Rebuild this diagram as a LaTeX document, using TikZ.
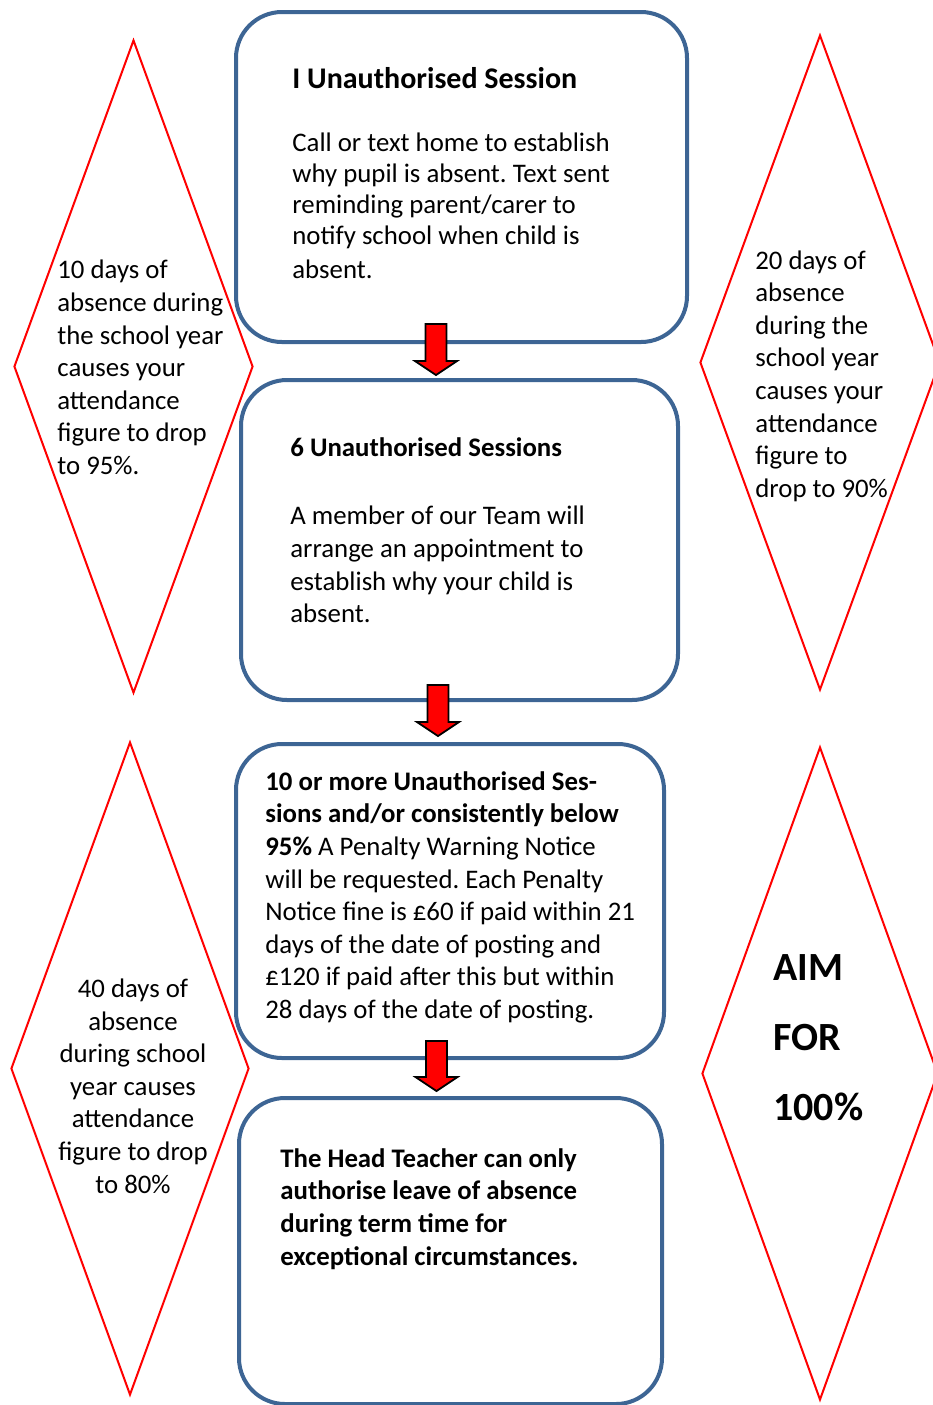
\documentclass[tikz,border=0pt]{standalone}
\usepackage{fontspec}
\setmainfont{Carlito}
\usepackage{tikz}
\usetikzlibrary{shapes.geometric,positioning,calc}
\frenchspacing
\definecolor{BoxBlue}{HTML}{3D6594}
\definecolor{KiteRed}{HTML}{FF0000}
\definecolor{ArrowRed}{HTML}{FF0000}
\tikzset{
  SB/.style={rectangle,rounded corners=23pt,draw=BoxBlue,line width=2pt,fill=white},
  KT/.style={diamond,draw=KiteRed,line width=1pt,inner sep=0pt},
  tx/.style={inner sep=0pt,align=left,font=\fontsize{13.4}{16.3}\selectfont},
  tc/.style={tx,align=center},
  big/.style={inner sep=0pt,align=left,font=\fontsize{20}{35}\selectfont\bfseries},
  blockarr/.style={draw=black,fill=ArrowRed,line width=0.9pt,line join=miter,
    to path={($(\tikztostart)+(-10.5,0)$) -- ($(\tikztotarget)+(-10.5,-14)$)
      -- ($(\tikztotarget)+(-21,-14)$) -- (\tikztotarget)
      -- ($(\tikztotarget)+(21,-14)$) -- ($(\tikztotarget)+(10.5,-14)$)
      -- ($(\tikztostart)+(10.5,0)$) -- cycle}}
}

\begin{document}
\begin{tikzpicture}[x=0.5pt,y=-0.5pt]
  \useasboundingbox (0,0) rectangle (933,1405);

  % kites on the left and right
  \node[KT,minimum width=119.5pt,minimum height=326.5pt] (k1) at (133.5,366.5) {};
  \node[KT,minimum width=120pt,minimum height=327.5pt] (k2) at (820,362.5) {};
  \node[KT,minimum width=119pt,minimum height=326.5pt] (k3) at (130,1068.5) {};
  \node[KT,minimum width=118pt,minimum height=326.5pt] (k4) at (820,1073.5) {};

  \node[tx,anchor=west] (k1t) at (57,367.5) {10 days of\\absence during\\the school year\\causes your\\attendance\\figure to drop\\to 95\%.};
  \node[tx,anchor=west] (k2t) at (755,376) {20 days of\\absence\\during the\\school year\\causes your\\attendance\\figure to\\drop to 90\%};
  \node[tc] (k3t) at (133,1086) {40 days of\\absence\\during school\\year causes\\attendance\\figure to drop\\to 80\%};
  \node[big,anchor=west] (k4t) at (773,1038) {AIM\\FOR\\100\%};

  % the four steps
  \node[SB,minimum width=225.5pt,minimum height=165pt] (b1) at (461.5,177) {};
  \node[SB,minimum width=218.5pt,minimum height=160pt] (b2) at (459.5,540) {};
  \node[SB,minimum width=214pt,minimum height=157pt] (b3) at (450,901) {};
  \node[SB,minimum width=211.5pt,minimum height=153pt] (b4) at (450.5,1251) {};

  \node[tx,font=\fontsize{13.4}{15.5}\selectfont,below right=28.5pt and 29pt of b1.north west] (b1t)
    {{\fontsize{15}{18}\selectfont\bfseries I Unauthorised Session}\\[16pt]
     Call or text home to establish\\why pupil is absent. Text sent\\reminding parent/carer to\\notify school when child is\\[1.5pt]absent.};
  \node[tx,below right=29.5pt and 25.5pt of b2.north west] (b2t)
    {\textbf{6 Unauthorised Sessions}\\[18pt]
     A member of our Team will\\arrange an appointment to\\establish why your child is\\absent.};
  \node[tx,below right=14.5pt and 15.5pt of b3.north west] (b3t)
    {\textbf{10 or more Unauthorised Ses-}\\\textbf{sions and/or consistently below}\\\textbf{95\%} A Penalty Warning Notice\\will be requested. Each Penalty\\Notice fine is £60 if paid within 21\\days of the date of posting and\\£120 if paid after this but within\\28 days of the date of posting.};
  \node[tx,font=\fontsize{13.4}{16.3}\selectfont\bfseries,below right=26pt and 21.5pt of b4.north west] (b4t)
    {The Head Teacher can only\\authorise leave of absence\\during term time for\\exceptional circumstances.};

  \draw[blockarr] ([xshift=-12.75pt,yshift=10pt]b1.south) to ([xshift=-11.75pt,yshift=1.5pt]b2.north);
  \draw[blockarr] ([xshift=-10.75pt,yshift=8.5pt]b2.south) to ([xshift=-6pt,yshift=3pt]b3.north);
  \draw[blockarr] ([xshift=-6.75pt,yshift=9.5pt]b3.south) to ([xshift=-7pt,yshift=2.5pt]b4.north);
\end{tikzpicture}
\end{document}
